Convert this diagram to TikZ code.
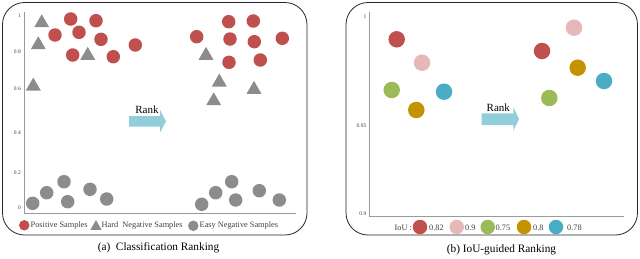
\documentclass[tikz,border=0pt]{standalone}
\usepackage{fontspec}
\setmainfont{Liberation Serif}
\usetikzlibrary{shapes.geometric}
\definecolor{posred}{HTML}{C0504D}
\definecolor{grayc}{HTML}{8C8C8C}
\definecolor{pinkc}{HTML}{E6B9B8}
\definecolor{greenc}{HTML}{9BBB59}
\definecolor{goldc}{HTML}{C59200}
\definecolor{cyanc}{HTML}{4BACC6}
\definecolor{arrowc}{HTML}{92CDDC}
\definecolor{axisc}{HTML}{9A9A9A}
\definecolor{txtc}{HTML}{404040}
\begin{document}
\begin{tikzpicture}[x=1pt,y=-1pt,
  panelframe/.style={draw=black!85, line width=0.8pt, rounded corners=22pt},
  axisln/.style={draw=axisc, line width=0.9pt},
  posc/.style={circle, fill=posred, minimum size=13.5pt, inner sep=0pt},
  easyc/.style={circle, fill=grayc, minimum size=13.5pt, inner sep=0pt},
  hardt/.style={regular polygon, regular polygon sides=3, fill=grayc, minimum size=17.3pt, inner sep=0pt, yshift=-2.2pt},
  iouc/.style={circle, minimum size=16.5pt, inner sep=0pt},
  legc/.style={circle, minimum size=10.5pt, inner sep=0pt},
  legtri/.style={regular polygon, regular polygon sides=3, fill=grayc, minimum size=13pt, inner sep=0pt, yshift=-1.6pt},
  iouleg/.style={circle, minimum size=14.5pt, inner sep=0pt},
  ticklbl/.style={font=\fontsize{5.5}{6}\selectfont, text=txtc, inner sep=0pt, anchor=east},
  legtxt/.style={font=\fontsize{8.3}{9}\selectfont, text=txtc, inner sep=0pt, anchor=west},
  ranklbl/.style={font=\fontsize{11}{12}\selectfont, inner sep=0pt},
  captxt/.style={font=\fontsize{11.3}{13}\selectfont, inner sep=0pt},
  rankarrow/.style={fill=arrowc}
]
\useasboundingbox (0,0) rectangle (640,258);

% ---------------- Panel (a) ----------------
\draw[panelframe] (2.5,2.5) rectangle (307,235);
\coordinate (aO) at (24,213);
\coordinate (aY) at (24,12);
\coordinate (aX) at (296,213);
\draw[axisln] (aY) -- (aO) -- (aX);
\node[ticklbl] (t1) at (21,16) {1};
\node[ticklbl] (t08) at (21,52) {0.8};
\node[ticklbl] (t06) at (21,89) {0.6};
\node[ticklbl] (t04) at (21,133) {0.4};
\node[ticklbl] (t02) at (21,173) {0.2};
\node[ticklbl] (t0) at (21,208) {0};

% left group positives
\node[posc] (p1) at (70.7,19) {};
\node[posc] (p2) at (96,20.7) {};
\node[posc] (p3) at (55,35) {};
\node[posc] (p4) at (79,32.3) {};
\node[posc] (p5) at (101,39.3) {};
\node[posc] (p6) at (135.3,45) {};
\node[posc] (p7) at (72.7,55) {};
\node[posc] (p8) at (113.3,56.7) {};
% left group hard negatives
\node[hardt] (h1) at (41.7,20.7) {};
\node[hardt] (h2) at (38.3,42.7) {};
\node[hardt] (h3) at (87.7,53.3) {};
\node[hardt] (h4) at (33.3,84) {};
% right group positives
\node[posc] (q1) at (196.7,36.7) {};
\node[posc] (q2) at (228.7,21.7) {};
\node[posc] (q3) at (253.3,21) {};
\node[posc] (q4) at (230,39) {};
\node[posc] (q5) at (254.3,41.7) {};
\node[posc] (q6) at (282.3,38.3) {};
\node[posc] (q7) at (229,62.3) {};
\node[posc] (q8) at (260.3,60) {};
% right group hard negatives
\node[hardt] (k1) at (206,53.3) {};
\node[hardt] (k2) at (219.3,80) {};
\node[hardt] (k3) at (254,87.3) {};
\node[hardt] (k4) at (213.7,98.7) {};
% easy negatives
\node[easyc] (e1) at (32.7,203.3) {};
\node[easyc] (e2) at (46.7,192.7) {};
\node[easyc] (e3) at (64,181.7) {};
\node[easyc] (e4) at (67.7,201.7) {};
\node[easyc] (e5) at (90,189.3) {};
\node[easyc] (e6) at (106.7,199) {};
\node[easyc] (f1) at (201.7,204.3) {};
\node[easyc] (f2) at (215.7,192.7) {};
\node[easyc] (f3) at (231.7,181.7) {};
\node[easyc] (f4) at (235.7,200) {};
\node[easyc] (f5) at (259.3,190.7) {};
\node[easyc] (f6) at (279.3,200) {};

% rank arrow (a)
\fill[rankarrow] (129,116) -- (160,116) -- (160,110) -- (166,121.3) -- (160,132.7) -- (160,126.7) -- (129,126.7) -- cycle;
\node[ranklbl] (ranka) at (147,109.5) {Rank};

% legend (a)
\node[legc, fill=posred] (la1) at (24.3,225.3) {};
\node[legtxt] (lt1) at (30.5,225.8) {Positive Samples};
\node[legtri] (la2) at (96,225) {};
\node[legtxt] (lt2) at (101.5,225.8) {Hard\ \ Negative Samples};
\node[legc, fill=grayc] (la3) at (193.3,225.8) {};
\node[legtxt] (lt3) at (199.5,225.8) {Easy Negative Samples};

\node[captxt] (capa) at (158.5,248) {(a)\ \ Classification Ranking};

% ---------------- Panel (b) ----------------
\draw[panelframe] (346,2.5) rectangle (637.5,235);
\coordinate (bO) at (369.3,216);
\coordinate (bY) at (369.3,12);
\coordinate (bX) at (624,216);
\draw[axisln] (bY) -- (bO) -- (bX);
\node[ticklbl] (u1) at (366.5,17) {1};
\node[ticklbl] (u095) at (366.5,126) {0.95};
\node[ticklbl] (u09) at (366.5,213.3) {0.9};

% left group
\node[iouc, fill=posred] (b1) at (396.7,39.3) {};
\node[iouc, fill=pinkc] (b2) at (422,62.7) {};
\node[iouc, fill=greenc] (b3) at (391.7,90) {};
\node[iouc, fill=cyanc] (b4) at (444,91.7) {};
\node[iouc, fill=goldc] (b5) at (416.3,110) {};
% right group
\node[iouc, fill=pinkc] (c1) at (574,27.7) {};
\node[iouc, fill=posred] (c2) at (542,51) {};
\node[iouc, fill=goldc] (c3) at (577.7,67.7) {};
\node[iouc, fill=cyanc] (c4) at (604,81) {};
\node[iouc, fill=greenc] (c5) at (549.3,98) {};

% rank arrow (b)
\fill[rankarrow] (481.7,113.3) -- (513.3,113.3) -- (513.3,107) -- (519,119) -- (513.3,131) -- (513.3,125) -- (481.7,125) -- cycle;
\node[ranklbl] (rankb) at (498.3,107.3) {Rank};

% legend (b)
\node[legtxt] (iout) at (394.5,227.5) {IoU :};
\node[iouleg, fill=posred] (d1) at (420,227) {};
\node[legtxt] (dt1) at (429,227.5) {0.82};
\node[iouleg, fill=pinkc] (d2) at (456.7,227) {};
\node[legtxt] (dt2) at (465,227.5) {0.9};
\node[iouleg, fill=greenc] (d3) at (487.7,227) {};
\node[legtxt] (dt3) at (495.5,227.5) {0.75};
\node[iouleg, fill=goldc] (d4) at (524,227) {};
\node[legtxt] (dt4) at (533,227.5) {0.8};
\node[iouleg, fill=cyanc] (d5) at (556,227) {};
\node[legtxt] (dt5) at (567,227.5) {0.78};

\node[captxt] (capb) at (501.5,250) {(b) IoU-guided Ranking};
\end{tikzpicture}
\end{document}
